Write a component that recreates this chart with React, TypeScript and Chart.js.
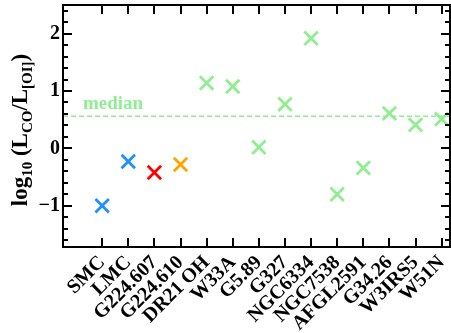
import React, { useEffect, useRef } from 'react';
import { Chart, registerables } from 'chart.js';

Chart.register(...registerables);

const categories = ['SMC', 'LMC', 'G224.607', 'G224.610', 'DR21 OH', 'W33A', 'G5.89', 'G327', 'NGC6334', 'NGC7538', 'AFGL2591', 'G34.26', 'W3IRS5', 'W51N'];
const logRatio = [-1.0, -0.23, -0.42, -0.28, 1.14, 1.08, 0.02, 0.77, 1.92, -0.8, -0.34, 0.61, 0.41, 0.51];
const pointColors = ['#1E90FF', '#1E90FF', '#FF0000', '#FFA500', '#90EE90', '#90EE90', '#90EE90', '#90EE90', '#90EE90', '#90EE90', '#90EE90', '#90EE90', '#90EE90', '#90EE90'];
const medianValue = 0.56;
const yTicks = [-1, 0, 1, 2];
const yMin = -1.72;
const yMax = 2.5;
const xMin = -1.5;
const xMax = 13.32;

const FONT = "'Liberation Serif', 'Times New Roman', serif";

const framePlugin = {
  id: 'frame',
  afterDraw(chart: any) {
    const { ctx, chartArea: a, scales } = chart;
    const xs = scales.x;
    const ys = scales.y;
    ctx.save();
    ctx.strokeStyle = '#000';
    ctx.lineWidth = 2;
    ctx.strokeRect(a.left, a.top, a.right - a.left, a.bottom - a.top);
    ctx.beginPath();
    categories.forEach((_, i) => {
      const px = Math.round(xs.getPixelForValue(i));
      ctx.moveTo(px, a.bottom);
      ctx.lineTo(px, a.bottom - 9);
      ctx.moveTo(px, a.top);
      ctx.lineTo(px, a.top + 9);
    });
    yTicks.forEach((v) => {
      const py = Math.round(ys.getPixelForValue(v));
      ctx.moveTo(a.left, py);
      ctx.lineTo(a.left + 9, py);
      ctx.moveTo(a.right, py);
      ctx.lineTo(a.right - 9, py);
    });
    for (let k = Math.ceil(yMin / 0.2); k * 0.2 <= yMax + 1e-9; k++) {
      const v = k * 0.2;
      if (Math.abs(v - Math.round(v)) < 1e-6) continue;
      const py = Math.round(ys.getPixelForValue(v));
      ctx.moveTo(a.left, py);
      ctx.lineTo(a.left + 5, py);
      ctx.moveTo(a.right, py);
      ctx.lineTo(a.right - 5, py);
    }
    ctx.stroke();

    // median label
    ctx.fillStyle = '#90EE90';
    ctx.font = `bold 19px ${FONT}`;
    ctx.textAlign = 'left';
    ctx.textBaseline = 'alphabetic';
    ctx.fillText('median', a.left + 20, ys.getPixelForValue(medianValue) - 7);

    // y axis title with subscripts
    const parts: [string, boolean][] = [
      ['log', false], ['10', true], [' (L', false], ['CO', true], ['/L', false], ['[OI]', true], [')', false],
    ];
    const big = `bold 23px ${FONT}`;
    const small = `bold 15px ${FONT}`;
    let total = 0;
    const widths = parts.map(([t, sub]) => {
      ctx.font = sub ? small : big;
      const w = ctx.measureText(t).width;
      total += w;
      return w;
    });
    const cy = (a.top + a.bottom) / 2 + 4;
    ctx.translate(27, cy);
    ctx.rotate(-Math.PI / 2);
    ctx.fillStyle = '#000';
    let x = -total / 2;
    parts.forEach(([t, sub], i) => {
      ctx.font = sub ? small : big;
      ctx.fillText(t, x, sub ? 5 : 0);
      x += widths[i];
    });
    ctx.restore();
  },
};

export default function App() {
  const ref = useRef<HTMLCanvasElement>(null);
  useEffect(() => {
    if (!ref.current) return;
    const chart = new Chart(ref.current, {
      type: 'scatter',
      data: {
        datasets: [
          {
            data: categories.map((_, i) => ({ x: i, y: logRatio[i] })),
            pointStyle: 'crossRot',
            pointRadius: 9.5,
            pointBorderWidth: 2.8,
            pointBorderColor: pointColors,
            pointBackgroundColor: pointColors,
            showLine: false,
          } as any,
          {
            data: [{ x: xMin, y: medianValue }, { x: xMax, y: medianValue }],
            showLine: true,
            borderColor: '#90EE90',
            borderWidth: 1.5,
            borderDash: [5, 3],
            pointRadius: 0,
          } as any,
        ],
      },
      options: {
        animation: false,
        responsive: false,
        devicePixelRatio: 1,
        layout: { autoPadding: false, padding: { top: 5, right: 1, left: 0, bottom: 0 } },
        plugins: { legend: { display: false }, tooltip: { enabled: false } },
        scales: {
          x: {
            type: 'linear',
            min: xMin,
            max: xMax,
            grid: { display: false, drawTicks: false },
            border: { display: false },
            afterBuildTicks: (s: any) => {
              s.ticks = categories.map((_, i) => ({ value: i }));
            },
            afterFit: (s: any) => {
              s.height = 86;
              s.paddingLeft = 0;
              s.paddingRight = 0;
            },
            ticks: {
              autoSkip: false,
              minRotation: 45,
              maxRotation: 45,
              padding: 4,
              color: '#000',
              font: { family: FONT, weight: 'bold', size: 20 },
              callback: (v: any) => categories[Math.round(Number(v))] ?? '',
            },
          },
          y: {
            type: 'linear',
            min: yMin,
            max: yMax,
            grid: { display: false, drawTicks: false },
            border: { display: false },
            afterBuildTicks: (s: any) => {
              s.ticks = yTicks.map((v) => ({ value: v }));
            },
            afterFit: (s: any) => {
              s.width = 63;
              s.paddingTop = 0;
              s.paddingBottom = 0;
            },
            ticks: {
              padding: 3,
              color: '#000',
              font: { family: FONT, weight: 'bold', size: 20 },
              callback: (v: any) => (Number(v) < 0 ? '\u2212' + Math.abs(Number(v)) : String(v)),
            },
          },
        },
      } as any,
      plugins: [framePlugin],
    });
    return () => chart.destroy();
  }, []);
  return (
    <div style={{ position: 'absolute', left: 0, top: 0, width: 451, height: 333 }}>
      <canvas ref={ref} width={451} height={333} style={{ display: 'block' }} />
    </div>
  );
}
